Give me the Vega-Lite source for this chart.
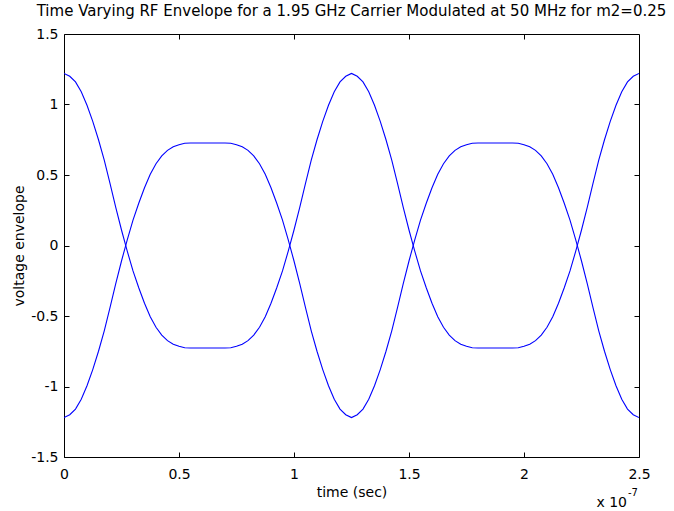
{
  "$schema": "https://vega.github.io/schema/vega-lite/v6.json",
  "autosize": {"type": "none"},
  "padding": {"left": 64, "top": 34, "right": 35, "bottom": 54},
  "width": 575,
  "height": 423,
  "background": "white",
  "title": {
    "text": "Time Varying RF Envelope for a 1.95 GHz Carrier Modulated at 50 MHz for m2=0.25",
    "font": "DejaVu Sans",
    "fontSize": 15,
    "fontWeight": "normal",
    "color": "black",
    "anchor": "middle",
    "baseline": "alphabetic",
    "offset": -4
  },
  "config": {
    "view": {"stroke": "black", "strokeWidth": 1},
    "axis": {
      "grid": false,
      "domain": false,
      "tickColor": "black",
      "tickSize": -5,
      "tickWidth": 1,
      "labelColor": "black",
      "labelFont": "DejaVu Sans",
      "labelFontSize": 14,
      "titleFont": "DejaVu Sans",
      "titleFontSize": 14,
      "titleFontWeight": "normal",
      "titleColor": "black",
      "labelFlush": false,
      "labelOverlap": false
    }
  },
  "data": {
    "values": [
      {"t": 0, "a": 1.22, "b": -1.22},
      {"t": 0.025, "a": 1.2, "b": -1.2},
      {"t": 0.05, "a": 1.16, "b": -1.16},
      {"t": 0.075, "a": 1.09, "b": -1.09},
      {"t": 0.1, "a": 0.995, "b": -0.995},
      {"t": 0.125, "a": 0.88, "b": -0.88},
      {"t": 0.15, "a": 0.75, "b": -0.75},
      {"t": 0.175, "a": 0.605, "b": -0.605},
      {"t": 0.2, "a": 0.44, "b": -0.44},
      {"t": 0.225, "a": 0.27, "b": -0.27},
      {"t": 0.25, "a": 0.11, "b": -0.11},
      {"t": 0.275, "a": -0.04, "b": 0.04},
      {"t": 0.3, "a": -0.18, "b": 0.18},
      {"t": 0.325, "a": -0.3, "b": 0.3},
      {"t": 0.35, "a": -0.41, "b": 0.41},
      {"t": 0.375, "a": -0.505, "b": 0.505},
      {"t": 0.4, "a": -0.58, "b": 0.58},
      {"t": 0.425, "a": -0.635, "b": 0.635},
      {"t": 0.45, "a": -0.675, "b": 0.675},
      {"t": 0.475, "a": -0.7, "b": 0.7},
      {"t": 0.5, "a": -0.715, "b": 0.715},
      {"t": 0.525, "a": -0.725, "b": 0.725},
      {"t": 0.55, "a": -0.727, "b": 0.727},
      {"t": 0.575, "a": -0.727, "b": 0.727},
      {"t": 0.6, "a": -0.727, "b": 0.727},
      {"t": 0.625, "a": -0.727, "b": 0.727},
      {"t": 0.65, "a": -0.727, "b": 0.727},
      {"t": 0.675, "a": -0.727, "b": 0.727},
      {"t": 0.7, "a": -0.727, "b": 0.727},
      {"t": 0.725, "a": -0.725, "b": 0.725},
      {"t": 0.75, "a": -0.715, "b": 0.715},
      {"t": 0.775, "a": -0.7, "b": 0.7},
      {"t": 0.8, "a": -0.675, "b": 0.675},
      {"t": 0.825, "a": -0.635, "b": 0.635},
      {"t": 0.85, "a": -0.58, "b": 0.58},
      {"t": 0.875, "a": -0.505, "b": 0.505},
      {"t": 0.9, "a": -0.41, "b": 0.41},
      {"t": 0.925, "a": -0.3, "b": 0.3},
      {"t": 0.95, "a": -0.18, "b": 0.18},
      {"t": 0.975, "a": -0.04, "b": 0.04},
      {"t": 1.0, "a": 0.11, "b": -0.11},
      {"t": 1.025, "a": 0.27, "b": -0.27},
      {"t": 1.05, "a": 0.44, "b": -0.44},
      {"t": 1.075, "a": 0.605, "b": -0.605},
      {"t": 1.1, "a": 0.75, "b": -0.75},
      {"t": 1.125, "a": 0.88, "b": -0.88},
      {"t": 1.15, "a": 0.995, "b": -0.995},
      {"t": 1.175, "a": 1.09, "b": -1.09},
      {"t": 1.2, "a": 1.16, "b": -1.16},
      {"t": 1.225, "a": 1.2, "b": -1.2},
      {"t": 1.25, "a": 1.22, "b": -1.22},
      {"t": 1.275, "a": 1.2, "b": -1.2},
      {"t": 1.3, "a": 1.16, "b": -1.16},
      {"t": 1.325, "a": 1.09, "b": -1.09},
      {"t": 1.35, "a": 0.995, "b": -0.995},
      {"t": 1.375, "a": 0.88, "b": -0.88},
      {"t": 1.4, "a": 0.75, "b": -0.75},
      {"t": 1.425, "a": 0.605, "b": -0.605},
      {"t": 1.45, "a": 0.44, "b": -0.44},
      {"t": 1.475, "a": 0.27, "b": -0.27},
      {"t": 1.5, "a": 0.11, "b": -0.11},
      {"t": 1.525, "a": -0.04, "b": 0.04},
      {"t": 1.55, "a": -0.18, "b": 0.18},
      {"t": 1.575, "a": -0.3, "b": 0.3},
      {"t": 1.6, "a": -0.41, "b": 0.41},
      {"t": 1.625, "a": -0.505, "b": 0.505},
      {"t": 1.65, "a": -0.58, "b": 0.58},
      {"t": 1.675, "a": -0.635, "b": 0.635},
      {"t": 1.7, "a": -0.675, "b": 0.675},
      {"t": 1.725, "a": -0.7, "b": 0.7},
      {"t": 1.75, "a": -0.715, "b": 0.715},
      {"t": 1.775, "a": -0.725, "b": 0.725},
      {"t": 1.8, "a": -0.727, "b": 0.727},
      {"t": 1.825, "a": -0.727, "b": 0.727},
      {"t": 1.85, "a": -0.727, "b": 0.727},
      {"t": 1.875, "a": -0.727, "b": 0.727},
      {"t": 1.9, "a": -0.727, "b": 0.727},
      {"t": 1.925, "a": -0.727, "b": 0.727},
      {"t": 1.95, "a": -0.727, "b": 0.727},
      {"t": 1.975, "a": -0.725, "b": 0.725},
      {"t": 2.0, "a": -0.715, "b": 0.715},
      {"t": 2.025, "a": -0.7, "b": 0.7},
      {"t": 2.05, "a": -0.675, "b": 0.675},
      {"t": 2.075, "a": -0.635, "b": 0.635},
      {"t": 2.1, "a": -0.58, "b": 0.58},
      {"t": 2.125, "a": -0.505, "b": 0.505},
      {"t": 2.15, "a": -0.41, "b": 0.41},
      {"t": 2.175, "a": -0.3, "b": 0.3},
      {"t": 2.2, "a": -0.18, "b": 0.18},
      {"t": 2.225, "a": -0.04, "b": 0.04},
      {"t": 2.25, "a": 0.11, "b": -0.11},
      {"t": 2.275, "a": 0.27, "b": -0.27},
      {"t": 2.3, "a": 0.44, "b": -0.44},
      {"t": 2.325, "a": 0.605, "b": -0.605},
      {"t": 2.35, "a": 0.75, "b": -0.75},
      {"t": 2.375, "a": 0.88, "b": -0.88},
      {"t": 2.4, "a": 0.995, "b": -0.995},
      {"t": 2.425, "a": 1.09, "b": -1.09},
      {"t": 2.45, "a": 1.16, "b": -1.16},
      {"t": 2.475, "a": 1.2, "b": -1.2},
      {"t": 2.5, "a": 1.22, "b": -1.22}
    ]
  },
  "transform": [{"fold": ["a", "b"], "as": ["curve", "v"]}],
  "layer": [
    {
      "mark": {"type": "line", "color": "#0000ff", "strokeWidth": 1.1, "clip": true},
      "encoding": {
        "x": {
          "field": "t", "type": "quantitative",
          "scale": {"domain": [0, 2.5], "nice": false, "zero": false},
          "axis": {
            "orient": "bottom",
            "values": [0, 0.5, 1, 1.5, 2, 2.5],
            "labelExpr": "format(datum.value, '~g')",
            "labelPadding": 15,
            "title": "time (sec)",
            "titlePadding": 4
          }
        },
        "y": {
          "field": "v", "type": "quantitative",
          "scale": {"domain": [-1.5, 1.5], "nice": false, "zero": false},
          "axis": {
            "orient": "left",
            "values": [-1.5, -1, -0.5, 0, 0.5, 1, 1.5],
            "labelExpr": "datum.value < 0 ? '-' + format(-datum.value, '~g') : format(datum.value, '~g')",
            "labelPadding": 11,
            "title": "voltage envelope",
            "titlePadding": 4
          }
        },
        "detail": {"field": "curve"}
      }
    },
    {
      "mark": {"type": "point", "opacity": 0},
      "encoding": {
        "x": {
          "field": "t", "type": "quantitative",
          "axis": {"orient": "top", "values": [0.5, 1, 1.5, 2], "labels": false, "title": null}
        },
        "y": {
          "field": "v", "type": "quantitative",
          "axis": {"orient": "right", "values": [-1, -0.5, 0, 0.5, 1], "labels": false, "title": null}
        }
      }
    },
    {
      "data": {"values": [{"t": 2.5, "v": -1.5, "label": "x 10"}]},
      "mark": {"type": "text", "align": "right", "baseline": "alphabetic", "dx": -12, "dy": 50, "font": "DejaVu Sans", "fontSize": 14, "color": "black"},
      "encoding": {
        "x": {"field": "t", "type": "quantitative", "axis": null},
        "y": {"field": "v", "type": "quantitative", "axis": null},
        "text": {"field": "label"}
      }
    },
    {
      "data": {"values": [{"t": 2.5, "v": -1.5, "label": "-7"}]},
      "mark": {"type": "text", "align": "left", "baseline": "alphabetic", "dx": -11, "dy": 39, "font": "DejaVu Sans", "fontSize": 10, "color": "black"},
      "encoding": {
        "x": {"field": "t", "type": "quantitative", "axis": null},
        "y": {"field": "v", "type": "quantitative", "axis": null},
        "text": {"field": "label"}
      }
    }
  ],
  "resolve": {"axis": {"x": "independent", "y": "independent"}}
}
